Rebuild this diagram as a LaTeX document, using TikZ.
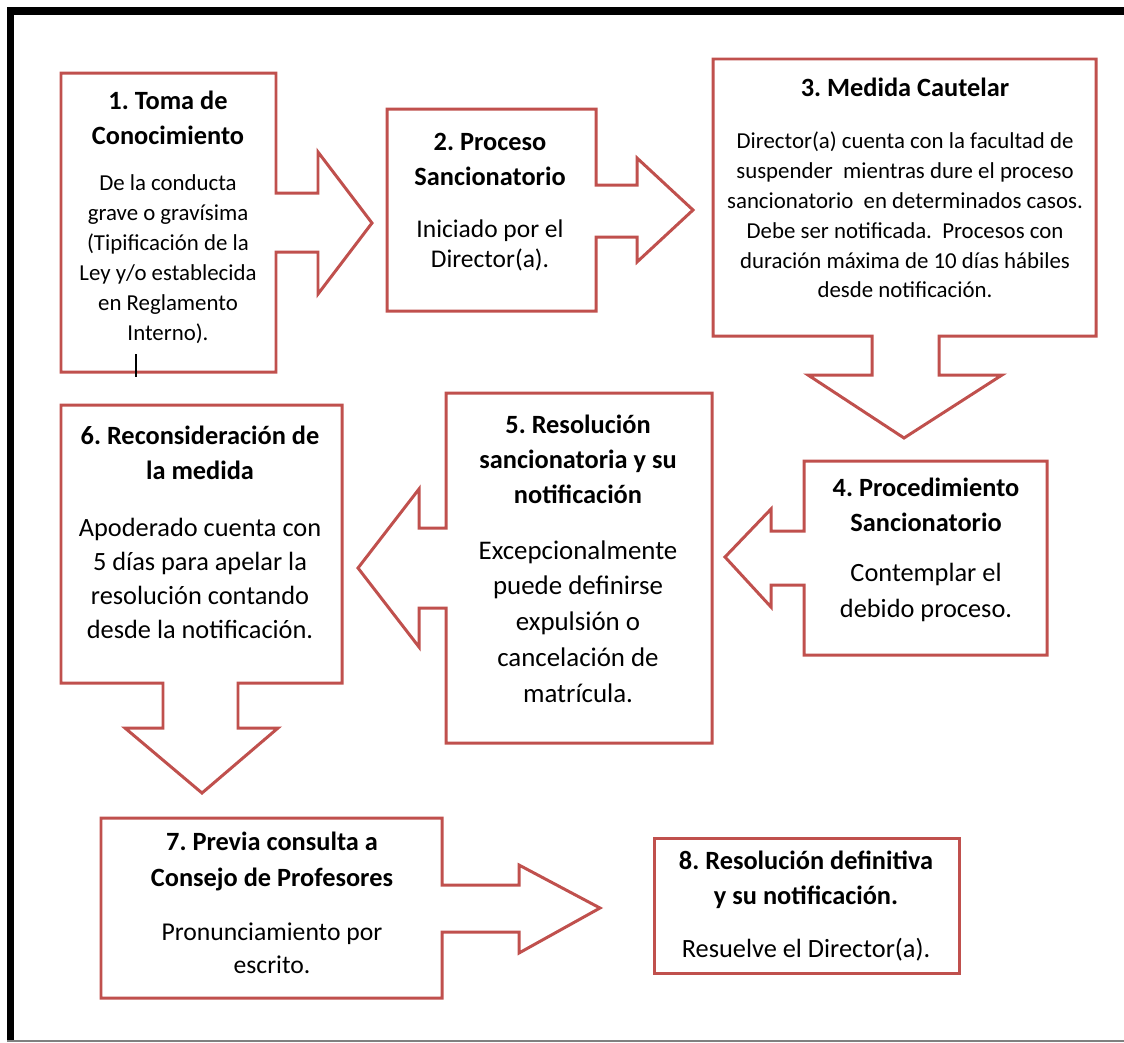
\documentclass[tikz,border=0pt]{standalone}
\usepackage{fontspec}
\setmainfont{Carlito}
\usepackage{tikz}
\usetikzlibrary{positioning}
\frenchspacing

\definecolor{boxred}{RGB}{192,80,77}

\tikzset{
  callout/.style={draw=boxred, line width=1.7pt, fill=white, line join=miter},
  ttl/.style={align=center, inner sep=0pt, font=\bfseries\fontsize{15}{20}\selectfont},
  txt/.style={align=center, inner sep=0pt, font=\fontsize{15}{20}\selectfont},
  smalltxt/.style={align=center, inner sep=0pt, font=\fontsize{13}{17}\selectfont},
}

\begin{document}
\begin{tikzpicture}[x=0.02cm, y=-0.02cm]
  \useasboundingbox (0,0) rectangle (1124,1042);
  % frame
  \fill[black] (7,7) rectangle (14,1042);
  \fill[black] (7,7) rectangle (1124,15);
  \draw[gray, line width=0.8pt] (7,1041) -- (1124,1041);

  % 1 -> right
  \draw[callout] (61,73) -- (276,73) -- (276,193) -- (318,193) -- (318,152) -- (372,223)
    -- (318,294) -- (318,252) -- (276,252) -- (276,372) -- (61,372) -- cycle;
  % 2 -> right
  \draw[callout] (387,109) -- (596,109) -- (596,185) -- (637,185) -- (637,158) -- (693,210)
    -- (637,262) -- (637,237) -- (596,237) -- (596,311) -- (387,311) -- cycle;
  % 3 -> down
  \draw[callout] (713,59) -- (1096,59) -- (1096,336) -- (939,336) -- (939,375) -- (1002,375)
    -- (904,438) -- (808,375) -- (872,375) -- (872,336) -- (713,336) -- cycle;
  % 4 -> left
  \draw[callout] (804,461) -- (1047,461) -- (1047,655) -- (804,655) -- (804,585) -- (771,585)
    -- (771,607) -- (725,557) -- (771,509) -- (771,531) -- (804,531) -- cycle;
  % 5 -> left
  \draw[callout] (446,393) -- (712,393) -- (712,743) -- (446,743) -- (446,608) -- (419,608)
    -- (419,647) -- (358,568) -- (419,489) -- (419,528) -- (446,528) -- cycle;
  % 6 -> down
  \draw[callout] (61,405) -- (342,405) -- (342,683) -- (238,683) -- (238,728) -- (278,728)
    -- (202,793) -- (125,728) -- (163,728) -- (163,683) -- (61,683) -- cycle;
  % 7 -> right
  \draw[callout] (101,818) -- (442,818) -- (442,885) -- (519,885) -- (519,865) -- (600,908)
    -- (519,953) -- (519,932) -- (442,932) -- (442,998) -- (101,998) -- cycle;
  % 8
  \draw[callout] (654,838) rectangle (959,973);

  \draw[black, line width=0.6pt] (136,354) -- (136,377);

  % texts
  \node[ttl] (t1) at (168,117.5) {1. Toma de\\Conocimiento};
  \node[smalltxt] (d1) at (168,259) {De la conducta\\grave o gravísima\\(Tipificación de la\\Ley y/o establecida\\en Reglamento\\Interno).};

  \node[ttl] (t2) at (490,159.5) {2. Proceso\\Sancionatorio};
  \node[txt, font=\fontsize{14.5}{17}\selectfont] (d2) at (490,245) {Iniciado por el\\Director(a).};

  \node[ttl] (t3) at (905,87) {3. Medida Cautelar};
  \node[smalltxt] (d3) at (905,215) {Director(a) cuenta con la facultad de\\suspender\ \ mientras dure el proceso\\sancionatorio\ \ en determinados casos.\\Debe ser notificada.\ \ Procesos con\\duración máxima de 10 días hábiles\\desde notificación.};

  \node[ttl] (t4) at (926,504.5) {4. Procedimiento\\Sancionatorio};
  \node[txt] (d4) at (926,592.5) {Contemplar el\\debido proceso.};

  \node[ttl] (t5) at (578,459) {5. Resolución\\sancionatoria y su\\notificación};
  \node[txt, font=\fontsize{15.3}{20.4}\selectfont] (d5) at (578,621.5) {Excepcionalmente\\puede definirse\\expulsión o\\cancelación de\\matrícula.};

  \node[ttl] (t6) at (200,452.5) {6. Reconsideración de\\la medida};
  \node[txt, font=\fontsize{15}{19.5}\selectfont] (d6) at (200,578.5) {Apoderado cuenta con\\5 días para apelar la\\resolución contando\\desde la notificación.};

  \node[ttl] (t7) at (272,861.5) {7. Previa consulta a\\Consejo de Profesores};
  \node[txt, font=\fontsize{14.6}{18.7}\selectfont] (d7) at (272,948.5) {Pronunciamiento por\\escrito.};

  \node[ttl] (t8) at (806,880) {8. Resolución definitiva\\y su notificación.};
  \node[txt] (d8) at (806,950) {Resuelve el Director(a).};
\end{tikzpicture}
\end{document}
